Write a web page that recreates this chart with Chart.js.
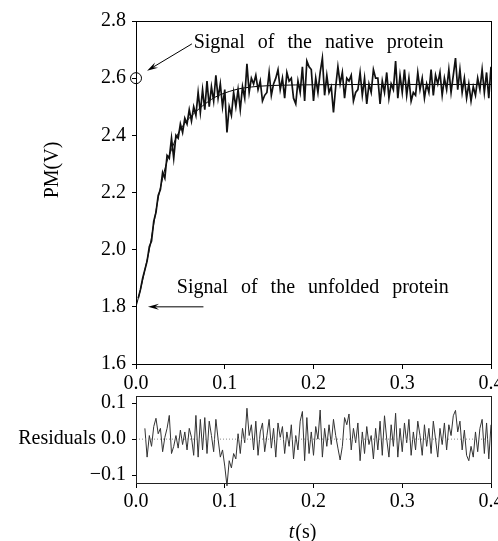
<!DOCTYPE html>
<html>
<head>
<meta charset="utf-8">
<script src="https://cdn.jsdelivr.net/npm/chart.js@4.4.0/dist/chart.umd.min.js"></script>
<style>
html, body { margin: 0; padding: 0; background: #fff; overflow: hidden; }
#wrap { position: relative; width: 498px; height: 541px; overflow: hidden; }
canvas { position: absolute; left: 0; top: 0; }
</style>
</head>
<body>
<div id="wrap">
<canvas id="main_chart_area" width="510" height="541"></canvas>
<canvas id="resid_chart_area" width="510" height="541"></canvas>
</div>
<script>
"use strict"
// sampled PM signal (V), one value every 2.5 ms starting at t = 2.5 ms
var sampleStep = 0.0025;
var signalValues = [
    1.83, 1.86, 1.90, 1.93, 1.96, 2.01, 2.03, 2.10, 2.13, 2.19,
    2.21, 2.27, 2.25, 2.33, 2.32, 2.39, 2.32, 2.40, 2.39, 2.44,
    2.41, 2.46, 2.44, 2.49, 2.45, 2.50, 2.47, 2.55, 2.48, 2.56,
    2.49, 2.59, 2.50, 2.57, 2.52, 2.61, 2.53, 2.58, 2.50, 2.56,
    2.41, 2.50, 2.47, 2.55, 2.50, 2.56, 2.49, 2.57, 2.53, 2.65,
    2.55, 2.60, 2.58, 2.61, 2.56, 2.59, 2.52, 2.54, 2.55, 2.62,
    2.54, 2.58, 2.60, 2.63, 2.56, 2.60, 2.53, 2.62, 2.59, 2.60,
    2.53, 2.51, 2.59, 2.55, 2.64, 2.52, 2.66, 2.64, 2.63, 2.52,
    2.60, 2.55, 2.62, 2.67, 2.54, 2.61, 2.55, 2.57, 2.48, 2.57,
    2.64, 2.58, 2.62, 2.53, 2.60, 2.59, 2.61, 2.52, 2.55, 2.56,
    2.62, 2.54, 2.60, 2.51, 2.58, 2.55, 2.63, 2.60, 2.60, 2.51,
    2.59, 2.55, 2.62, 2.53, 2.58, 2.56, 2.66, 2.53, 2.61, 2.55,
    2.63, 2.54, 2.60, 2.52, 2.55, 2.54, 2.62, 2.56, 2.60, 2.53,
    2.58, 2.55, 2.63, 2.54, 2.61, 2.58, 2.62, 2.54, 2.60, 2.56,
    2.63, 2.55, 2.61, 2.67, 2.56, 2.63, 2.55, 2.60, 2.53, 2.58,
    2.52, 2.57, 2.54, 2.60, 2.56, 2.63, 2.55, 2.62, 2.53, 2.64
];
// fitted single exponential
var fitTimes = [0, 0.005, 0.01, 0.015, 0.02, 0.025, 0.03, 0.035, 0.04, 0.045, 0.05, 0.06, 0.07, 0.08, 0.09, 0.1, 0.11, 0.12, 0.14, 0.16, 0.2, 0.3, 0.4];
var fitValues = [1.80, 1.86, 1.93, 2.00, 2.09, 2.18, 2.25, 2.31, 2.35, 2.39, 2.42, 2.46, 2.49, 2.515, 2.535, 2.548, 2.558, 2.565, 2.572, 2.575, 2.577, 2.578, 2.578];
// residuals, one value every 2.5 ms starting at t = 10 ms
var residualStart = 0.01;
var residualValues = [
    0.030, -0.050, 0.010, -0.020, 0.035, 0.058, 0.015, 0.030, -0.035, 0.005,
    0.030, 0.066, -0.040, -0.020, 0.010, -0.025, 0.025, -0.015, 0.020, -0.030,
    0.030, 0.005, -0.045, 0.066, -0.050, 0.055, -0.030, 0.060, -0.040, 0.050,
    0.010, -0.035, 0.055, 0.000, -0.050, -0.030, -0.075, -0.130, -0.060, -0.080,
    -0.040, -0.055, 0.015, -0.040, 0.030, -0.010, 0.086, 0.010, 0.040, -0.030,
    0.050, -0.045, 0.020, 0.045, -0.035, 0.010, 0.055, -0.025, 0.030, -0.050,
    0.045, 0.005, 0.035, -0.040, 0.020, -0.020, 0.040, -0.055, 0.010, -0.030,
    0.050, 0.077, -0.060, 0.060, -0.040, 0.020, -0.045, 0.035, 0.000, 0.081,
    -0.050, 0.030, -0.020, 0.040, -0.015, 0.055, 0.010, -0.025, -0.058, -0.020,
    0.060, 0.040, 0.070, -0.030, 0.030, -0.010, 0.045, -0.060, 0.020, -0.040,
    0.035, -0.015, 0.010, -0.055, 0.030, -0.030, 0.050, -0.045, 0.065, 0.000,
    -0.050, 0.040, -0.020, 0.072, -0.050, 0.030, -0.035, 0.045, -0.010, 0.055,
    -0.045, 0.020, -0.030, 0.050, 0.010, -0.045, 0.040, -0.020, 0.030, -0.040,
    0.050, 0.000, -0.050, 0.030, -0.015, 0.045, -0.030, 0.040, 0.010, 0.065,
    0.080, 0.020, 0.050, -0.030, 0.025, -0.045, -0.060, -0.020, -0.050, 0.020,
    -0.035, 0.030, 0.055, -0.040, 0.045, -0.055, 0.040
];
var xTicks = [0, 0.1, 0.2, 0.3, 0.4];
var mainYTicks = [1.6, 1.8, 2.0, 2.2, 2.4, 2.6, 2.8];
var residYTicks = [-0.1, 0, 0.1];

var serif = "'Liberation Serif', 'DejaVu Serif', serif";
var tickFont = {family: serif, size: 20};

function setTicks(list){
    return function(scale){ scale.ticks = list.map(function(v){ return {value: v}; }); };
}
function fmt(v){
    var s = Math.abs(v).toFixed(1);
    return v < -1e-9 ? "\u2212" + s : s;
}
function arrow(ctx, x1, y1, x2, y2){
    var a = Math.atan2(y2 - y1, x2 - x1);
    ctx.beginPath();
    ctx.moveTo(x1, y1);
    ctx.lineTo(x2 - 6 * Math.cos(a), y2 - 6 * Math.sin(a));
    ctx.stroke();
    ctx.beginPath();
    ctx.moveTo(x2, y2);
    ctx.lineTo(x2 - 11 * Math.cos(a) + 3 * Math.sin(a), y2 - 11 * Math.sin(a) - 3 * Math.cos(a));
    ctx.lineTo(x2 - 7 * Math.cos(a), y2 - 7 * Math.sin(a));
    ctx.lineTo(x2 - 11 * Math.cos(a) - 3 * Math.sin(a), y2 - 11 * Math.sin(a) + 3 * Math.cos(a));
    ctx.closePath();
    ctx.fill();
}
function words(ctx, list, x, y, gap){
    list.forEach(function(w){
        ctx.fillText(w, x, y);
        x += ctx.measureText(w).width + gap;
    });
}
function boxPlugin(color){
    return {
        id: 'box',
        afterDatasetsDraw: function(chart){
            var a = chart.chartArea, ctx = chart.ctx;
            ctx.save();
            ctx.strokeStyle = color;
            ctx.lineWidth = 1;
            ctx.strokeRect(Math.round(a.left) + 0.5, Math.round(a.top) + 0.5, Math.round(a.right - a.left), Math.round(a.bottom - a.top));
            ctx.restore();
        }
    };
}

var mainNotes = {
    id: 'mainNotes',
    afterDraw: function(chart){
        var ctx = chart.ctx, xs = chart.scales.x, ys = chart.scales.y;
        var px = function(t){ return xs.getPixelForValue(t); };
        var py = function(v){ return ys.getPixelForValue(v); };
        ctx.save();
        ctx.strokeStyle = '#000';
        ctx.fillStyle = '#000';
        ctx.lineWidth = 1;
        // native protein marker
        ctx.beginPath();
        ctx.arc(px(0), py(2.6), 5.5, 0, Math.PI * 2);
        ctx.stroke();
        arrow(ctx, px(0.063), py(2.72), px(0.0125), py(2.626));
        arrow(ctx, px(0.076), py(1.8), px(0.0135), py(1.8));
        ctx.font = "20px " + serif;
        ctx.textBaseline = 'middle';
        ctx.textAlign = 'left';
        words(ctx, ["Signal", "of", "the", "native", "protein"], px(0.065), py(2.723), 13);
        words(ctx, ["Signal", "of", "the", "unfolded", "protein"], px(0.046), py(1.867), 13);
        // y title
        ctx.translate(53, 170);
        ctx.rotate(-Math.PI / 2);
        ctx.textAlign = 'center';
        ctx.fillText("PM(V)", 0, 0);
        ctx.restore();
    }
};

var residNotes = {
    id: 'residNotes',
    afterDraw: function(chart){
        var ctx = chart.ctx;
        ctx.save();
        ctx.fillStyle = '#000';
        ctx.textBaseline = 'middle';
        ctx.textAlign = 'left';
        var it = "italic 20px " + serif, up = "20px " + serif;
        ctx.font = it;
        var w1 = ctx.measureText("t").width;
        ctx.font = up;
        var w2 = ctx.measureText("(s)").width;
        var x0 = 302 - (w1 + w2) / 2;
        ctx.font = it;
        ctx.fillText("t", x0, 533);
        ctx.font = up;
        ctx.fillText("(s)", x0 + w1 + 1, 533);
        ctx.restore();
    }
};

var signalPoints = signalValues.map(function(v, i){ return {x: (i + 1) * sampleStep, y: v}; });
var fitPoints = fitTimes.map(function(t, i){ return {x: t, y: fitValues[i]}; });
var residPoints = residualValues.map(function(v, i){ return {x: residualStart + i * sampleStep, y: v}; });

var mainChart = new Chart(document.getElementById("main_chart_area"), {
    type: 'line',
    data: {
        datasets: [
            {
                label: "Signal",
                data: signalPoints,
                borderColor: "#111",
                borderWidth: 1.7,
                pointRadius: 0,
                tension: 0,
                fill: false
            },
            {
                label: "Fit",
                data: fitPoints,
                borderColor: "#000",
                borderWidth: 1,
                pointRadius: 0,
                cubicInterpolationMode: 'monotone',
                fill: false
            }
        ]
    },
    options: {
        responsive: false,
        animation: false,
        layout: {padding: {left: 0, right: 19, top: 21, bottom: 149}},
        plugins: {legend: {display: false}, tooltip: {enabled: false}},
        scales: {
            x: {
                type: 'linear',
                min: 0,
                max: 0.4,
                afterBuildTicks: setTicks(xTicks),
                afterFit: function(s){ s.height = 28; },
                grid: {drawOnChartArea: false, drawTicks: true, tickLength: 5, color: '#000'},
                border: {color: '#000', width: 1},
                ticks: {font: tickFont, color: '#000', padding: 3, maxRotation: 0, callback: fmt}
            },
            y: {
                min: 1.6,
                max: 2.8,
                afterBuildTicks: setTicks(mainYTicks),
                afterFit: function(s){ s.width = 136; },
                grid: {drawOnChartArea: false, drawTicks: true, tickLength: 4, color: '#000'},
                border: {color: '#000', width: 1},
                ticks: {font: tickFont, color: '#000', padding: 6, callback: fmt}
            }
        }
    },
    plugins: [boxPlugin('#000'), mainNotes]
});

var residChart = new Chart(document.getElementById("resid_chart_area"), {
    type: 'line',
    data: {
        datasets: [
            {
                label: "Zero",
                data: [{x: 0, y: 0}, {x: 0.4, y: 0}],
                borderColor: "#8a8a8a",
                borderWidth: 1,
                borderDash: [1, 2],
                pointRadius: 0,
                fill: false
            },
            {
                label: "Residuals",
                data: residPoints,
                borderColor: "#333",
                borderWidth: 1,
                pointRadius: 0,
                tension: 0,
                fill: false,
                clip: 8
            }
        ]
    },
    options: {
        responsive: false,
        animation: false,
        layout: {padding: {left: 0, right: 19, top: 396, bottom: 0}},
        plugins: {legend: {display: false}, tooltip: {enabled: false}},
        scales: {
            x: {
                type: 'linear',
                min: 0,
                max: 0.4,
                afterBuildTicks: setTicks(xTicks),
                afterFit: function(s){ s.height = 58; },
                grid: {drawOnChartArea: false, drawTicks: true, tickLength: 5, color: '#000'},
                border: {color: '#000', width: 1},
                ticks: {font: tickFont, color: '#000', padding: 2, maxRotation: 0, callback: fmt}
            },
            y: {
                min: -0.122,
                max: 0.12,
                afterBuildTicks: setTicks(residYTicks),
                afterFit: function(s){ s.width = 136; },
                grid: {drawOnChartArea: false, drawTicks: true, tickLength: 4, color: '#000'},
                border: {color: '#000', width: 1},
                ticks: {
                    font: tickFont, color: '#000', padding: 6,
                    callback: function(v){ return Math.abs(v) < 1e-9 ? "Residuals 0.0" : fmt(v); }
                }
            }
        }
    },
    plugins: [boxPlugin('#222'), residNotes]
});
</script>
</body>
</html>
